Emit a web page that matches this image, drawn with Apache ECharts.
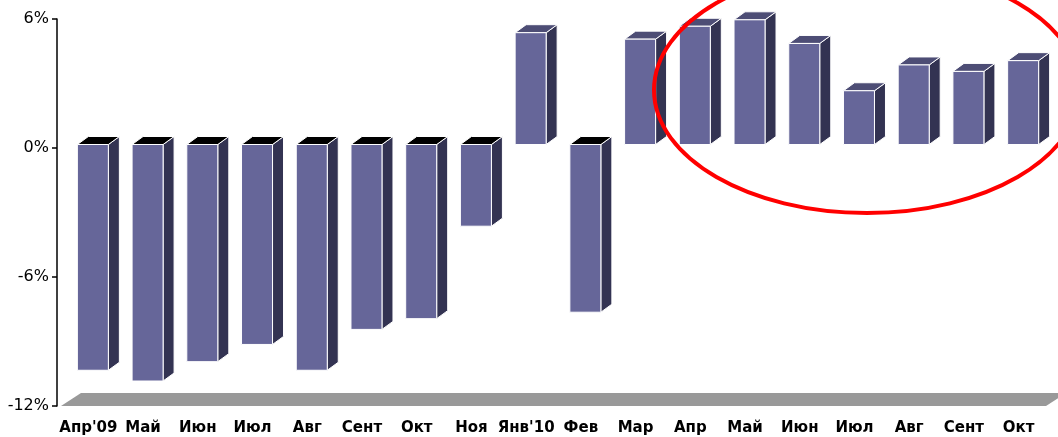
<!DOCTYPE html>
<html>
<head>
<meta charset="utf-8">
<script src="https://cdn.jsdelivr.net/npm/echarts@6/dist/echarts.min.js"></script>
<style>
  html, body { margin: 0; padding: 0; background: #fff; }
  #chart { width: 1058px; height: 437px; }
</style>
</head>
<body>
<div id="chart"></div>
<script>
// месяцы и значения (%)
var months = ["Апр'09", 'Май', 'Июн', 'Июл', 'Авг', 'Сент', 'Окт', 'Ноя', "Янв'10", 'Фев',
              'Мар', 'Апр', 'Май', 'Июн', 'Июл', 'Авг', 'Сент', 'Окт'];
var values = [-10.5, -11.0, -10.1, -9.3, -10.5, -8.6, -8.1, -3.8, 5.2, -7.8,
              4.9, 5.5, 5.8, 4.7, 2.5, 3.7, 3.4, 3.9];
var yMin = -12, yMax = 6, yStep = 6;

var gridLeft = 61, gridRight = 12, gridTop = 19, gridBottom = 31;
var W = 1058, H = 437;

// 3d смещение
var dx = 11, dy = 8, lift = 3.5;

var dom = document.getElementById('chart');
var myChart = echarts.init(dom);

function renderBar(params, api) {
    var i = api.value(0);
    var v = api.value(1);
    var p0 = api.coord([i, 0]);
    var p1 = api.coord([i, v]);
    var x0 = p0[0] - 11, x1 = p0[0] + 20;
    var yTop = Math.min(p0[1], p1[1]) - lift;
    var yBot = Math.max(p0[1], p1[1]) - lift;
    var edge = { stroke: '#ffffff', lineWidth: 1 };
    return {
        type: 'group',
        children: [
            {   // бок
                type: 'polygon',
                shape: { points: [[x1, yTop], [x1 + dx, yTop - dy], [x1 + dx, yBot - dy], [x1, yBot]] },
                style: Object.assign({ fill: '#333352' }, edge)
            },
            {   // верх
                type: 'polygon',
                shape: { points: [[x0, yTop], [x0 + dx, yTop - dy], [x1 + dx, yTop - dy], [x1, yTop]] },
                style: Object.assign({ fill: v < 0 ? '#000000' : '#4d4d75' }, edge)
            },
            {   // фронт
                type: 'rect',
                shape: { x: x0, y: yTop, width: x1 - x0, height: yBot - yTop },
                style: Object.assign({ fill: '#666699' }, edge)
            }
        ]
    };
}

var data = values.map(function (v, i) { return [i, v]; });

// пол
var floorY = gridTop + (H - gridTop - gridBottom);
var floorPts = [
    [gridLeft, floorY],
    [W - gridRight, floorY],
    [W - gridRight + 20, floorY - 13],
    [gridLeft + 20, floorY - 13]
];

option = {
    backgroundColor: '#ffffff',
    animation: false,
    grid: { left: gridLeft, right: gridRight, top: gridTop, bottom: gridBottom },
    xAxis: {
        type: 'category',
        data: months,
        axisLine: { show: false },
        axisTick: { show: false },
        axisLabel: {
            interval: 0,
            margin: 15,
            color: '#000',
            fontSize: 15,
            fontWeight: 'bold',
            fontFamily: 'DejaVu Sans, sans-serif'
        },
        splitLine: { show: false }
    },
    yAxis: {
        type: 'value',
        min: yMin,
        max: yMax,
        interval: yStep,
        offset: 4,
        axisLine: { show: true, lineStyle: { color: '#000', width: 1.5 } },
        axisTick: { show: true, length: 5, lineStyle: { color: '#000', width: 1.5 } },
        axisLabel: {
            formatter: '{value}%',
            margin: 8,
            color: '#000',
            fontSize: 16,
            fontFamily: 'DejaVu Sans, sans-serif'
        },
        splitLine: { show: false }
    },
    graphic: [
        {
            type: 'polygon',
            z: 0,
            shape: { points: floorPts },
            style: { fill: '#999999' }
        },
        {
            type: 'ellipse',
            z: 100,
            shape: { cx: 867, cy: 90, rx: 213, ry: 123 },
            style: { fill: null, stroke: '#ff0000', lineWidth: 4 }
        }
    ],
    series: [
        {
            type: 'custom',
            renderItem: renderBar,
            encode: { x: 0, y: 1 },
            data: data,
            z: 5
        }
    ]
};
myChart.setOption(option, true);
</script>
</body>
</html>
